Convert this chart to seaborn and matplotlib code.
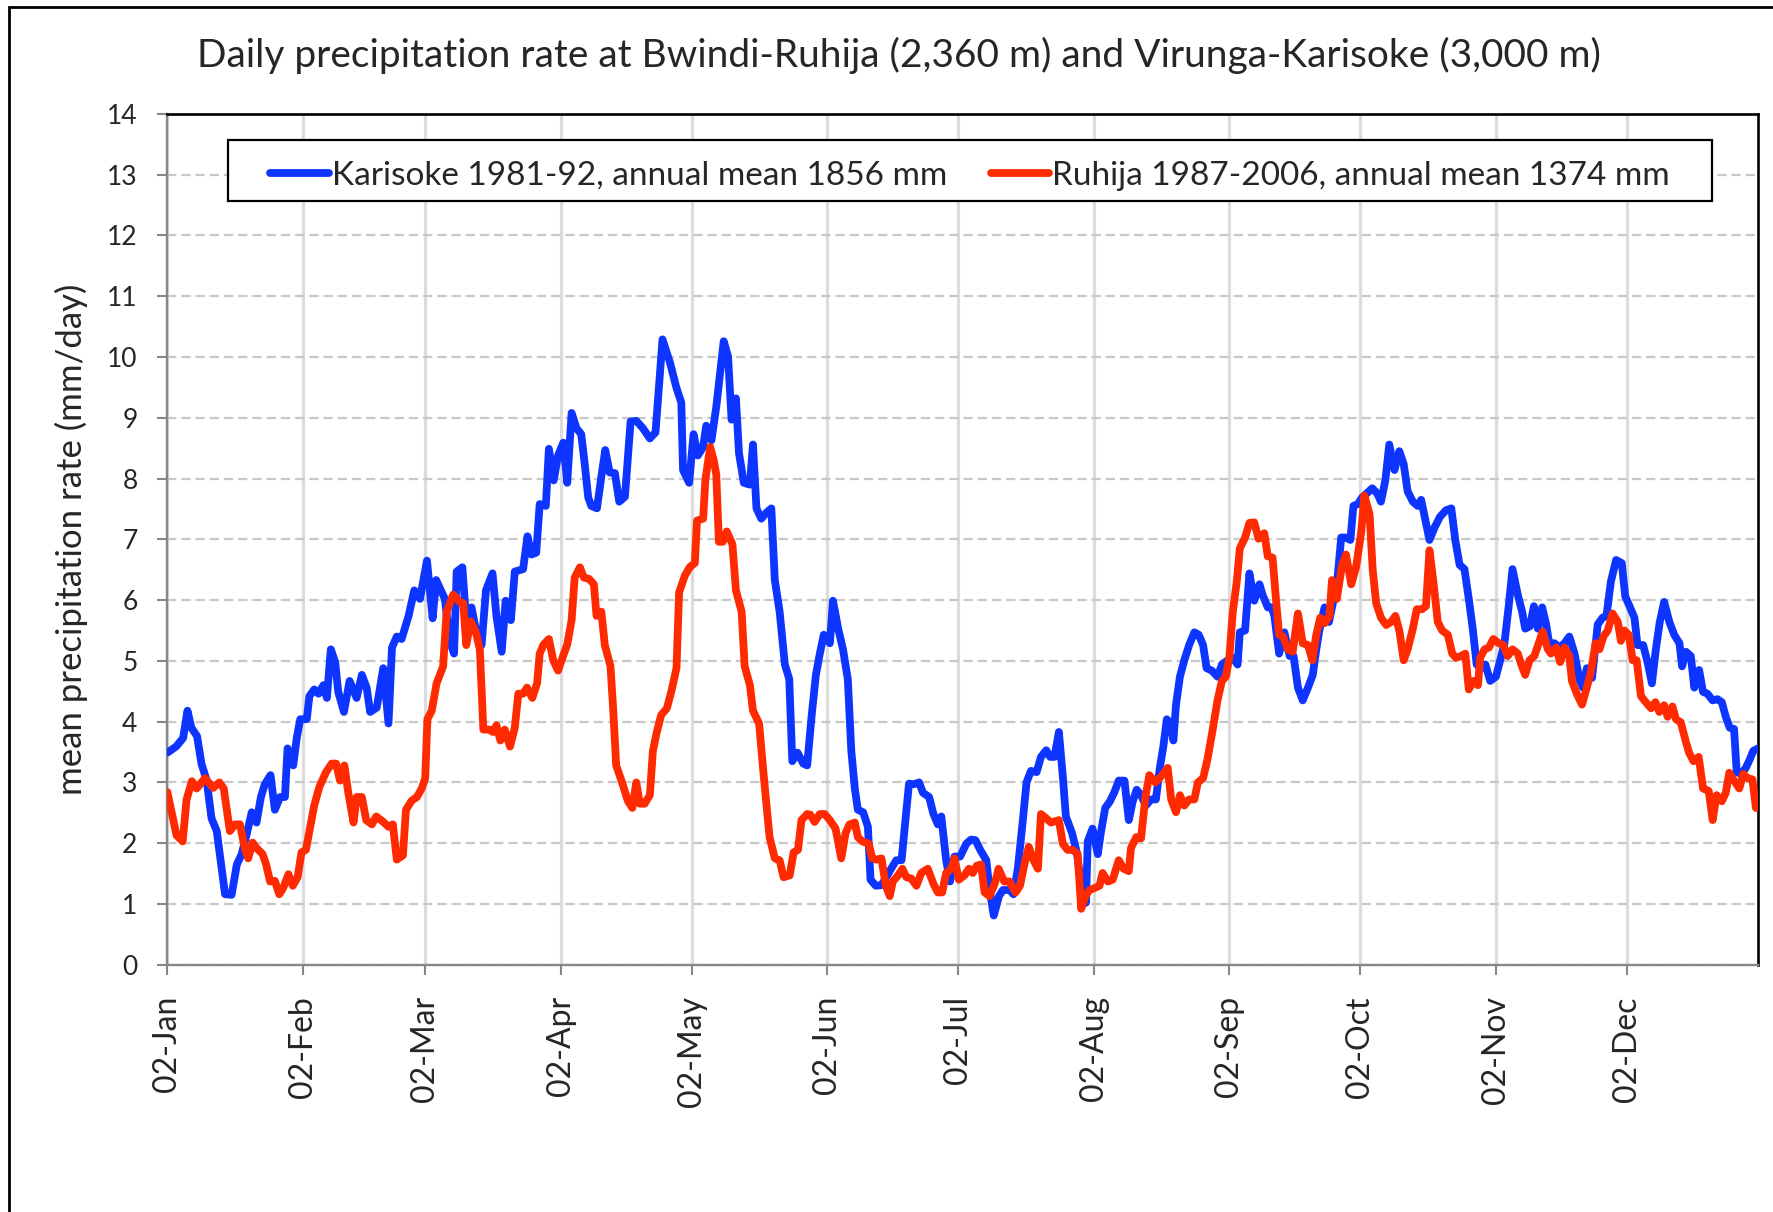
import matplotlib
matplotlib.use("Agg")
import matplotlib.pyplot as plt
from matplotlib.patches import Rectangle
import pandas as pd
import seaborn as sns

# Day-of-year positions and mean daily precipitation (mm/day)
karisoke_day = [
    2, 4, 5.6, 6.6, 7.5, 8.8, 9.8, 11.0, 12.1, 13.3, 15.2, 16.7, 17.9, 19.0, 20.1, 21.3,
    22.4, 23.4, 24.3, 25.6, 26.6, 27.8, 28.9, 29.5, 30.8, 31.6, 32.4, 33.9, 34.5, 35.6,
    36.6, 37.7, 38.5, 39.4, 40.4, 41.1, 42.4, 43.7, 45.3, 46.5, 47.6, 48.4, 49.9, 51.4,
    52.6, 53.4, 54.5, 55.6, 57.2, 58.5, 59.8, 61.4, 62.7, 63.5, 65.5, 66.6, 67.6, 68.2,
    69.5, 70.3, 71.6, 72.7, 73.9, 74.9, 76.4, 77.3, 78.5, 79.4, 80.6, 81.5, 83.4, 84.4,
    85.3, 86.4, 87.2, 88.6, 89.3, 90.4, 91.4, 92.6, 93.5, 94.5, 95.6, 96.7, 97.5, 98.3,
    99.0, 100.3, 101.3, 102.2, 103.2, 104.4, 105.4, 106.7, 108.0, 109.3, 110.8, 112.4,
    113.7, 115.3, 117.0, 118.5, 119.6, 120.0, 121.4, 122.4, 123.4, 124.6, 125.3, 126.5,
    127.6, 129.3, 130.3, 131.1, 132.1, 132.8, 133.9, 135.3, 136.0, 136.8, 137.9, 139.1,
    140.2, 141.0, 142.1, 143.3, 144.3, 145.0, 146.2, 147.5, 148.4, 149.4, 150.4, 151.3,
    152.2, 153.6, 154.3, 155.5, 156.6, 157.7, 158.5, 159.3, 160.0, 161.2, 162.3, 162.9,
    164.1, 165.4, 166.5, 167.7, 168.8, 170.0, 171.7, 172.8, 174.0, 174.9, 176.3, 177.3,
    178.3, 179.1, 180.2, 181.1, 182.1, 183.4, 184.8, 185.9, 186.9, 188.0, 189.4, 190.1,
    191.1, 192.3, 193.2, 194.7, 195.6, 196.6, 197.7, 198.6, 199.6, 200.9, 201.9, 203.1,
    204.0, 205.0, 206.0, 206.9, 207.6, 209.0, 210.1, 211.1, 212.2, 212.6, 213.7, 214.9,
    215.6, 216.6, 217.7, 218.7, 219.7, 221.0, 222.0, 222.9, 223.8, 224.8, 225.9, 227.1,
    228.2, 229.1, 229.9, 230.7, 231.7, 232.2, 232.8, 233.7, 234.7, 235.8, 237.0, 238.0,
    239.0, 239.8, 241.0, 242.3, 243.3, 244.6, 245.8, 246.9, 247.4, 248.6, 249.6, 250.7,
    251.9, 252.6, 253.8, 254.7, 255.3, 256.4, 257.6, 258.8, 259.7, 260.7, 261.8, 263.0,
    264.1, 264.9, 265.6, 266.8, 267.8, 268.7, 269.5, 270.6, 271.6, 272.7, 273.4, 274.4,
    275.4, 276.5, 277.7, 278.8, 279.7, 280.7, 281.6, 282.8, 283.9, 284.9, 285.8, 287.0,
    288.1, 288.9, 289.7, 290.8, 292.0, 293.2, 294.6, 295.8, 296.7, 297.7, 298.8, 299.8,
    300.7, 301.6, 302.6, 303.6, 304.7, 306.0, 307.9, 308.9, 309.8, 311.0, 312.0, 312.7,
    313.8, 314.7, 315.6, 316.6, 317.5, 318.2, 319.4, 320.5, 321.7, 322.8, 324.0, 325.1,
    325.9, 326.8, 328.0, 329.3, 330.4, 331.3, 332.3, 333.5, 334.8, 335.6, 336.7, 337.7,
    338.4, 339.7, 340.7, 341.7, 342.6, 343.5, 344.5, 345.7, 346.8, 348.0, 348.6, 349.5,
    350.6, 351.4, 352.5, 353.4, 354.4, 355.6, 356.7, 357.7, 358.6, 359.5, 360.5, 361.1,
    362.1, 363.2, 364.1, 364.9, 366.0,
]
karisoke_mm = [
    3.49, 3.59, 3.73, 4.18, 3.90, 3.76, 3.31, 3.03, 2.41, 2.20, 1.16, 1.15, 1.65, 1.82, 2.13, 2.51,
    2.34, 2.76, 2.97, 3.12, 2.55, 2.76, 2.76, 3.56, 3.28, 3.73, 4.04, 4.04, 4.42, 4.53,
    4.46, 4.60, 4.39, 5.19, 4.98, 4.49, 4.16, 4.67, 4.39, 4.77, 4.56, 4.16, 4.23, 4.88,
    3.97, 5.22, 5.40, 5.36, 5.74, 6.16, 6.02, 6.65, 5.70, 6.33, 6.02, 5.33, 5.12, 6.47,
    6.54, 5.74, 5.88, 5.47, 5.26, 6.16, 6.44, 5.74, 5.15, 5.99, 5.67, 6.47, 6.51, 7.05,
    6.75, 6.78, 7.58, 7.55, 8.49, 7.97, 8.38, 8.59, 7.93, 9.08, 8.83, 8.73, 8.24, 7.69,
    7.55, 7.51, 8.03, 8.47, 8.10, 8.09, 7.62, 7.70, 8.94, 8.95, 8.83, 8.66,
    8.76, 10.29, 9.91, 9.49, 9.25, 8.14, 7.93, 8.73, 8.38, 8.52, 8.87, 8.63,
    9.18, 10.26, 10.01, 8.97, 9.32, 8.42, 7.93, 7.90, 8.56, 7.51, 7.34, 7.44,
    7.51, 6.33, 5.81, 4.94, 4.70, 3.35, 3.49, 3.31, 3.28, 4.08, 4.77, 5.12,
    5.43, 5.29, 5.99, 5.53, 5.19, 4.70, 3.52, 2.90, 2.55, 2.51, 2.27, 1.40,
    1.30, 1.31, 1.44, 1.59, 1.72, 1.72, 2.98, 2.97, 3.00, 2.83, 2.76, 2.48,
    2.31, 2.44, 1.72, 1.37, 1.78, 1.78, 1.99, 2.06, 2.05, 1.89, 1.72, 1.26,
    0.81, 1.13, 1.23, 1.23, 1.16, 1.58, 2.34, 3.00, 3.19, 3.17, 3.42, 3.53,
    3.42, 3.42, 3.83, 3.10, 2.44, 2.17, 1.85, 1.30, 1.02, 2.03, 2.24, 1.82,
    2.17, 2.58, 2.69, 2.84, 3.03, 3.03, 2.38, 2.69, 2.88, 2.79, 2.62, 2.72,
    2.72, 3.24, 3.59, 4.04, 3.94, 3.69, 4.28, 4.74, 5.01, 5.26, 5.47, 5.43,
    5.26, 4.88, 4.84, 4.74, 4.94, 5.01, 5.05, 4.94, 5.47, 5.50, 6.44, 5.99,
    6.26, 6.09, 5.88, 5.88, 5.74, 5.12, 5.47, 5.08, 5.08, 4.56, 4.35, 4.56,
    4.77, 5.19, 5.50, 5.88, 5.64, 5.95, 6.16, 7.03, 7.03, 6.99, 7.55, 7.58,
    7.69, 7.76, 7.84, 7.76, 7.62, 7.97, 8.56, 8.14, 8.45, 8.24, 7.79, 7.62,
    7.55, 7.65, 7.37, 6.99, 7.20, 7.37, 7.48, 7.51, 6.99, 6.58, 6.51, 6.02,
    5.53, 4.94, 4.88, 4.94, 4.67, 4.74, 5.26, 5.88, 6.51, 6.09, 5.81, 5.53,
    5.57, 5.90, 5.53, 5.88, 5.60, 5.29, 5.29, 5.22, 5.29, 5.40, 5.12, 4.70,
    4.56, 4.88, 4.72, 5.60, 5.71, 5.74, 6.30, 6.66, 6.61, 6.06, 5.88, 5.71,
    5.26, 5.26, 4.98, 4.63, 5.19, 5.64, 5.97, 5.64, 5.43, 5.29, 4.91, 5.15,
    5.08, 4.56, 4.85, 4.49, 4.46, 4.35, 4.37, 4.32, 4.08, 3.90, 3.88, 3.17,
    3.14, 3.24, 3.38, 3.52, 3.56,
]

ruhija_day = [
    2, 4.1, 5.5, 6.4, 7.6, 8.7, 10.6, 12.5, 13.9, 14.9, 16.3, 17.5, 18.6, 19.8, 20.5, 21.5,
    22.4, 23.8, 24.6, 25.5, 26.6, 27.6, 28.5, 29.7, 30.7, 31.8, 32.7, 33.7, 34.7, 35.6,
    36.8, 38.3, 39.6, 40.6, 41.5, 42.5, 43.4, 44.6, 45.3, 46.5, 47.5, 48.8, 49.8, 51.4,
    52.6, 53.6, 54.5, 55.9, 56.6, 57.9, 59.1, 60.2, 61.0, 61.5, 62.5, 63.6, 65.1, 65.9,
    67.4, 68.9, 69.7, 70.4, 71.4, 72.6, 73.5, 74.3, 75.6, 76.5, 77.3, 78.2, 79.2, 80.4,
    81.5, 82.3, 83.4, 84.3, 85.5, 86.6, 87.2, 88.1, 89.3, 90.3, 91.4, 92.4, 93.5, 94.5,
    95.2, 96.4, 97.3, 98.5, 99.6, 100.2, 101.3, 102.1, 103.4, 104.0, 104.7, 105.9, 107.4,
    108.4, 109.3, 110.1, 111.2, 112.4, 113.1, 114.0, 115.0, 116.3, 117.3, 118.5, 119.1,
    120.4, 121.5, 122.7, 123.2, 124.6, 125.1, 126.2, 127.0, 127.6, 128.2, 129.1, 130.0,
    131.3, 132.1, 133.4, 134.1, 135.3, 136.0, 137.4, 138.3, 139.1, 139.8, 141.0, 142.1,
    143.0, 144.4, 145.3, 146.3, 147.1, 148.4, 149.1, 150.1, 151.3, 152.4, 153.6, 154.9,
    156.2, 157.2, 158.1, 159.3, 160.0, 161.0, 162.5, 163.3, 164.2, 165.4, 166.4, 167.3,
    168.0, 169.2, 170.2, 171.1, 172.2, 173.4, 174.5, 176.0, 177.3, 178.3, 179.3, 180.2,
    181.4, 182.1, 183.1, 184.4, 185.4, 186.3, 187.2, 188.2, 189.0, 190.1, 191.3, 192.2,
    193.5, 194.7, 196.1, 197.1, 198.1, 199.1, 200.2, 201.2, 201.9, 203.1, 204.2, 206.0,
    206.9, 208.0, 209.2, 210.3, 211.1, 212.1, 213.0, 214.1, 215.3, 216.0, 217.2, 218.3,
    219.7, 220.8, 222.0, 222.5, 223.7, 224.8, 225.8, 226.7, 228.1, 229.4, 230.9, 231.7,
    232.8, 233.7, 234.7, 235.8, 237.0, 237.8, 239.0, 240.0, 241.2, 242.3, 243.3, 244.2,
    245.0, 245.8, 246.7, 247.4, 248.6, 249.6, 250.7, 251.7, 253.0, 253.8, 254.9, 255.7,
    256.4, 257.3, 258.4, 259.5, 260.7, 261.8, 263.0, 264.0, 264.9, 265.8, 266.8, 267.9,
    268.5, 269.6, 270.8, 271.7, 272.9, 274.0, 275.2, 275.9, 277.1, 277.8, 278.6, 279.7,
    280.9, 282.0, 283.0, 283.9, 284.9, 285.8, 287.0, 287.9, 289.1, 290.0, 290.8, 291.7,
    292.7, 293.7, 295.0, 296.0, 296.9, 298.0, 299.0, 299.8, 300.9, 301.9, 302.4, 303.4,
    304.4, 305.4, 306.7, 307.7, 308.7, 309.8, 311.0, 311.8, 312.7, 313.7, 314.8, 315.8,
    316.7, 317.9, 318.6, 319.8, 320.7, 321.7, 322.8, 323.4, 324.5, 325.7, 326.8, 327.8,
    328.8, 329.7, 330.6, 331.6, 332.7, 333.9, 334.6, 335.4, 336.4, 337.3, 338.2, 339.2,
    340.3, 341.5, 342.5, 343.4, 344.5, 345.3, 346.4, 347.2, 348.3, 349.5, 350.2, 351.2,
    352.4, 353.4, 354.7, 355.6, 356.5, 357.7, 358.6, 359.4, 360.5, 361.7, 362.6, 363.6,
    364.7, 365.5, 366.0,
]
ruhija_mm = [
    2.84, 2.13, 2.03, 2.72, 3.02, 2.90, 3.07, 2.91, 3.00, 2.90, 2.20, 2.31, 2.31, 1.89, 1.75, 2.01,
    1.92, 1.82, 1.65, 1.37, 1.38, 1.16, 1.26, 1.49, 1.30, 1.44, 1.85, 1.89, 2.27, 2.62,
    2.93, 3.17, 3.31, 3.31, 3.03, 3.28, 2.83, 2.34, 2.76, 2.76, 2.38, 2.31, 2.44, 2.35,
    2.27, 2.31, 1.73, 1.80, 2.55, 2.70, 2.76, 2.90, 3.07, 4.04, 4.18, 4.63, 4.91, 5.81,
    6.09, 5.97, 5.95, 5.26, 5.65, 5.47, 5.19, 3.87, 3.87, 3.83, 3.94, 3.69, 3.87, 3.59,
    3.90, 4.46, 4.46, 4.56, 4.39, 4.63, 5.12, 5.27, 5.36, 5.01, 4.84, 5.05, 5.27, 5.67,
    6.37, 6.54, 6.37, 6.35, 6.26, 5.74, 5.81, 5.26, 4.91, 4.22, 3.28, 3.03, 2.69,
    2.58, 3.00, 2.65, 2.65, 2.79, 3.52, 3.83, 4.11, 4.22, 4.49, 4.88, 6.13,
    6.40, 6.54, 6.61, 7.31, 7.34, 7.97, 8.52, 8.31, 8.07, 6.96, 6.96, 7.13,
    6.92, 6.16, 5.81, 4.91, 4.60, 4.18, 3.97, 3.24, 2.62, 2.10, 1.75, 1.72,
    1.44, 1.47, 1.85, 1.89, 2.38, 2.48, 2.47, 2.35, 2.48, 2.48, 2.38, 2.24,
    1.75, 2.17, 2.31, 2.34, 2.10, 2.03, 1.99, 1.75, 1.73, 1.75, 1.30, 1.13,
    1.37, 1.47, 1.58, 1.44, 1.42, 1.30, 1.51, 1.58, 1.33, 1.19, 1.19, 1.51,
    1.58, 1.75, 1.40, 1.47, 1.58, 1.51, 1.63, 1.65, 1.19, 1.13, 1.33, 1.58,
    1.37, 1.37, 1.19, 1.30, 1.65, 1.94, 1.72, 1.58, 2.48, 2.41, 2.34, 2.38,
    1.99, 1.89, 1.89, 1.82, 0.92, 1.13, 1.23, 1.26, 1.30, 1.51, 1.37, 1.40,
    1.72, 1.58, 1.54, 1.92, 2.10, 2.08, 2.76, 3.12, 3.00, 3.10, 3.24, 2.72,
    2.51, 2.79, 2.62, 2.72, 2.72, 3.00, 3.07, 3.38, 3.87, 4.35, 4.67, 4.74,
    5.05, 5.81, 6.30, 6.85, 7.03, 7.27, 7.28, 7.01, 7.10, 6.72, 6.70, 5.99,
    5.43, 5.40, 5.19, 5.15, 5.78, 5.29, 5.26, 5.01, 5.43, 5.71, 5.62, 5.74,
    6.33, 6.02, 6.58, 6.75, 6.26, 6.54, 7.13, 7.72, 7.41, 6.51, 5.95, 5.71,
    5.59, 5.64, 5.74, 5.50, 5.01, 5.19, 5.53, 5.85, 5.85, 5.90, 6.82, 6.30,
    5.64, 5.50, 5.43, 5.12, 5.05, 5.08, 5.12, 4.53, 4.67, 4.60, 5.05, 5.19,
    5.22, 5.36, 5.29, 5.26, 5.08, 5.19, 5.12, 4.94, 4.77, 5.01, 5.08, 5.29,
    5.48, 5.19, 5.12, 5.22, 4.98, 5.22, 5.08, 4.67, 4.46, 4.28, 4.56, 4.84,
    5.29, 5.19, 5.40, 5.50, 5.78, 5.64, 5.33, 5.50, 5.43, 5.01, 5.01, 4.42,
    4.32, 4.22, 4.32, 4.16, 4.27, 4.08, 4.25, 4.04, 3.99, 3.66, 3.49, 3.35,
    3.42, 2.90, 2.86, 2.38, 2.79, 2.69, 2.83, 3.16, 3.03, 2.90, 3.14, 3.07,
    3.05, 2.58, 2.58,
]

series_labels = ["Karisoke 1981-92, annual mean 1856 mm",
                 "Ruhija 1987-2006, annual mean 1374 mm"]
series_colors = ["#0d35ff", "#ff2a00"]

tick_days = [2, 33, 61, 92, 122, 153, 183, 214, 245, 275, 306, 336]
tick_labels = ["02-Jan", "02-Feb", "02-Mar", "02-Apr", "02-May", "02-Jun",
               "02-Jul", "02-Aug", "02-Sep", "02-Oct", "02-Nov", "02-Dec"]

title = "Daily precipitation rate at Bwindi-Ruhija (2,360 m) and Virunga-Karisoke (3,000 m)"
ylabel = "mean precipitation rate (mm/day)"

df = pd.concat([
    pd.DataFrame({"day": karisoke_day, "mm": karisoke_mm, "series": series_labels[0]}),
    pd.DataFrame({"day": ruhija_day, "mm": ruhija_mm, "series": series_labels[1]}),
], ignore_index=True)

sns.set_style("white")
plt.rcParams["font.family"] = ["Lato", "DejaVu Sans"]

fig = plt.figure(figsize=(17.73, 12.12), dpi=100)
ax = fig.add_axes([0.0944, 0.204, 0.8972, 0.702])

sns.lineplot(data=df, x="day", y="mm", hue="series", hue_order=series_labels,
             palette=series_colors, linewidth=5.6, estimator=None, sort=False,
             ax=ax, legend=True, zorder=3)
for line in ax.get_lines():
    line.set_solid_joinstyle("round")
    line.set_solid_capstyle("round")

ax.set_xlim(2, 366)
ax.set_ylim(0, 14)
ax.set_xticks(tick_days)
ax.set_xticklabels(tick_labels, rotation=90, fontsize=23)
ax.set_yticks(range(0, 15))
ax.tick_params(axis="y", labelsize=19, pad=14)
ax.tick_params(axis="x", pad=15)
ax.tick_params(direction="out", length=7.5, width=1.5, color="#878787", left=True, bottom=True)

ax.set_axisbelow(True)
ax.grid(axis="y", color="#c8c8c8", linewidth=1.6, linestyle=(0, (4.2, 2.2)))
ax.grid(axis="x", color="#dcdcdc", linewidth=2.3, linestyle="-")

for side in ("left", "bottom"):
    ax.spines[side].set_color("#878787")
    ax.spines[side].set_linewidth(1.7)
for side in ("top", "right"):
    ax.spines[side].set_color("black")
    ax.spines[side].set_linewidth(1.9)
    ax.spines[side].set_visible(True)

ax.set_xlabel("")
ax.set_ylabel(ylabel, fontsize=25)
ax.yaxis.set_label_coords(-0.050, 0.5)

# legend box frame, then the entries centred inside it
ax.add_patch(Rectangle((0.0381, 0.8977), 0.9330, 0.0717, transform=ax.transAxes,
                       facecolor="white", edgecolor="black", linewidth=1.6,
                       zorder=5, clip_on=False))
handles, labels = ax.get_legend_handles_labels()
leg = ax.legend(handles, labels, ncol=2, loc="center",
                bbox_to_anchor=(0.5046, 0.9275),
                fontsize=24, frameon=False, borderpad=0.2,
                handlelength=1.75, handletextpad=0.1, columnspacing=1.3,
                borderaxespad=0)
leg.set_zorder(6)
for h in leg.legend_handles:
    h.set_linewidth(5.6)
    h.set_solid_capstyle("round")

fig.text(899 / 1773, 1 - 55 / 1212, title, ha="center", va="center", fontsize=28)

fig.add_artist(Rectangle((9 / 1773, -0.05), 1.2, 1 - 7 / 1212 + 0.05,
                         transform=fig.transFigure, fill=False, edgecolor="black",
                         linewidth=2.0, clip_on=False))

fig.savefig("out.png", dpi=100)
